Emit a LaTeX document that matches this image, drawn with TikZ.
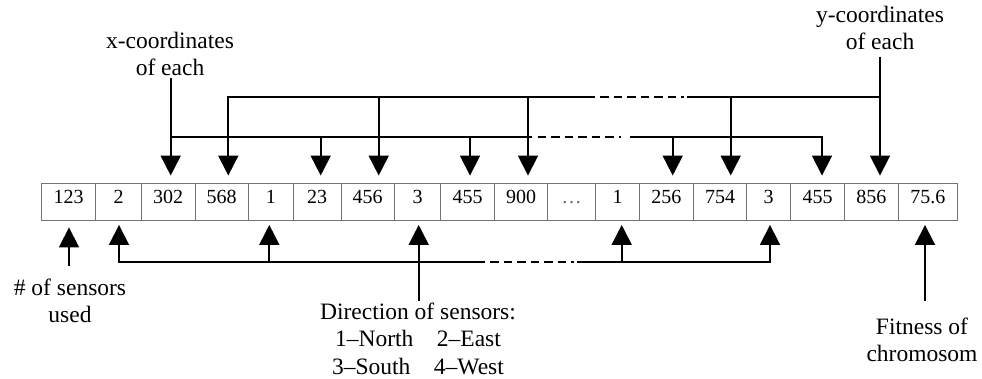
\documentclass[tikz,border=0pt]{standalone}
\usepackage{fontspec}
\setmainfont{Liberation Serif}
\usetikzlibrary{arrows.meta,calc}
\begin{document}
\begin{tikzpicture}[x=1pt,y=-1pt,
  cell/.style={draw=black!55, line width=0.9pt, minimum height=37.4pt,
    inner sep=0pt, text height=13.5pt, text depth=10.5pt,
    font=\fontsize{20}{24}\selectfont},
  lbl/.style={align=center, inner sep=0pt, font=\fontsize{23.5}{27.5}\selectfont},
  wire/.style={line width=1.8pt},
  arr/.style={wire, -{Triangle[width=20pt,length=20pt]}},
  dashdot/.style={wire, dash pattern=on 8.5pt off 5pt on 8.5pt off 5pt on 8.5pt off 5pt
    on 8.5pt off 5pt on 8.5pt off 5pt on 8.5pt off 5pt on 2.5pt off 40pt}]
\useasboundingbox (0,0) rectangle (982,379);

% chromosome cells
\foreach \l/\r/\t [count=\i] in {
  41.7/95.7/123, 95.7/141.3/2, 141.3/195/302, 195/248.3/568, 248.3/293.3/1,
  293.3/341/23, 341/394.3/456, 394.3/440.7/3, 440.7/494.3/455, 494.3/547.7/900,
  547.7/595.7/{\textcolor{black!60}{\dots}}, 595.7/639.3/1, 639.3/693.3/256,
  693.3/746.7/754, 746.7/790.7/3, 790.7/844.3/455, 844.3/898.3/856, 898.3/957.3/75.6}
  \node[cell, minimum width={(\r-\l)*1pt}] (c\i) at ({(\l+\r)/2},202) {\t};

% labels (anchored at the baseline of their last line)
\node[lbl, anchor=base] (xlab) at (170,76) {x-coordinates\\of each};
\node[lbl, anchor=base] (ylab) at (880,50) {y-coordinates\\of each};
\node[lbl, anchor=base] (slab) at (70,322.7) {\# of sensors\\used};
\node[lbl, anchor=base] (dlab) at (418,374)
  {Direction of sensors:\\1--North\hspace{0.75em} 2--East\\3--South\hspace{0.75em} 4--West};
\node[lbl, anchor=base] (flab) at (922,361.7) {Fitness of\\chromosom};

% x-coordinates: lower bus
\coordinate (xv)  at (170.7,78);
\coordinate (lb0) at (170.7,137.3);
\coordinate (lbA) at (531.7,137.3);
\coordinate (lbB) at (630,137.3);
\coordinate (lb1) at (822,137.3);
\draw[arr, shorten >=7.3pt] (xv) -- (xv |- c3.north);
\draw[wire] (lb0) -- (lbA);
\draw[dashdot] ($(lbA)+(6,0)$) -- (lbB);
\draw[arr, shorten >=7.3pt] (lbB) -- (lb1) -- (lb1 |- c16.north);
\foreach \x/\c in {320.7/6, 470/9, 672.7/13} {
  \coordinate (d\c) at (\x,137.3);
  \draw[arr, shorten >=7.3pt] (d\c) -- (d\c |- c\c.north);
}

% y-coordinates: upper bus
\coordinate (yv)  at (880,56.7);
\coordinate (ub0) at (228.3,96.7);
\coordinate (ubA) at (595,96.7);
\coordinate (ubB) at (687,96.7);
\coordinate (ub1) at (880,96.7);
\draw[arr, shorten >=7.3pt] (yv) -- (yv |- c17.north);
\draw[arr, shorten >=7.3pt] (ubA) -- (ub0) -- (ub0 |- c4.north);
\draw[dashdot] ($(ubA)+(5,0)$) -- (ubB);
\draw[wire] (ubB) -- (ub1);
\foreach \x/\c in {378.7/7, 528/10, 730.7/14} {
  \coordinate (u\c) at (\x,96.7);
  \draw[arr, shorten >=7.3pt] (u\c) -- (u\c |- c\c.north);
}

% directions: bottom bus
\coordinate (dv)  at (418.7,300.7);
\coordinate (bb0) at (119,261.7);
\coordinate (bbA) at (485,261.7);
\coordinate (bbB) at (577,261.7);
\coordinate (bb1) at (770,261.7);
\draw[arr, shorten >=3.8pt] (dv) -- (dv |- c8.south);
\draw[arr, shorten >=3.8pt] (bbA) -- (bb0) -- (bb0 |- c2.south);
\draw[dashdot] ($(bbA)+(5,0)$) -- (bbB);
\draw[arr, shorten >=3.8pt] (bbB) -- (bb1) -- (bb1 |- c15.south);
\foreach \x/\c in {269.3/5, 621.7/12} {
  \coordinate (b\c) at (\x,261.7);
  \draw[arr, shorten >=3.8pt] (b\c) -- (b\c |- c\c.south);
}

% number of sensors and fitness
\coordinate (sv) at (69,266);
\coordinate (fv) at (925,300.7);
\draw[arr, shorten >=6.3pt] (sv) -- (sv |- c1.south);
\draw[arr, shorten >=3.8pt] (fv) -- (fv |- c18.south);
\end{tikzpicture}
\end{document}
